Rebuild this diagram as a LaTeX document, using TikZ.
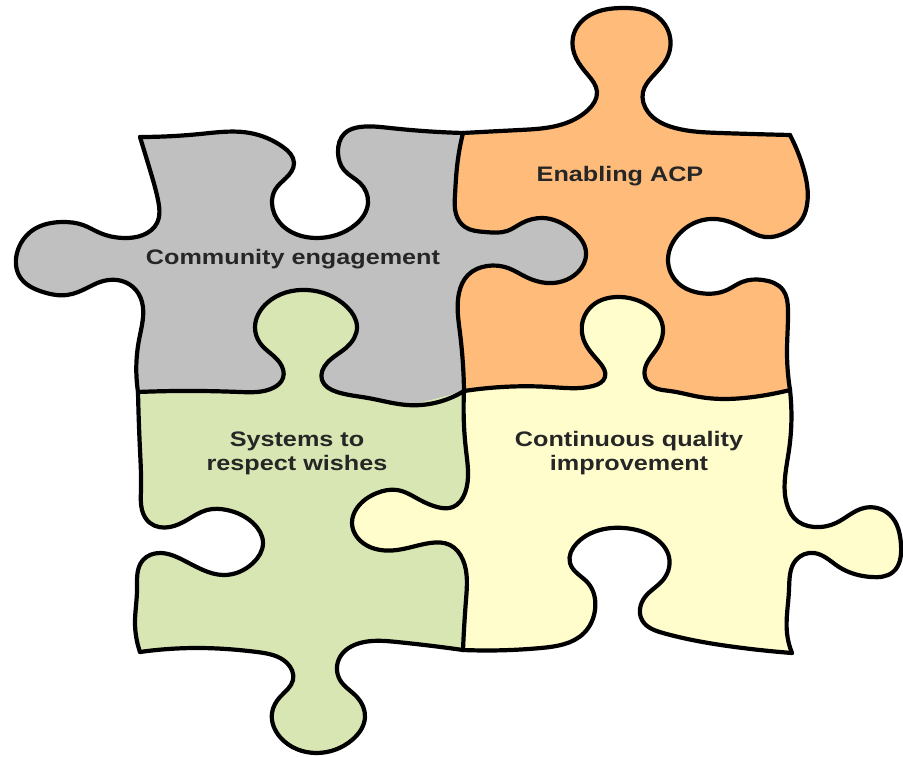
\documentclass[tikz,border=0pt]{standalone}
\usepackage{fontspec}
\setmainfont{Liberation Sans}
\usetikzlibrary{hobby}
\definecolor{pgray}{RGB}{192,192,192}
\definecolor{porange}{RGB}{255,187,122}
\definecolor{pgreen}{RGB}{215,230,178}
\definecolor{pyellow}{RGB}{255,253,204}
\definecolor{ptext}{RGB}{38,38,38}
\begin{document}
\begin{tikzpicture}[x=1pt,y=-1pt,
  edge/.style={line width=4.2pt,line join=round,line cap=round,draw=black},
  label/.style={font=\bfseries\fontsize{21}{24}\selectfont,xscale=1.2,align=center,text=ptext,inner sep=0pt}]
\fill[white] (0,0) rectangle (903,757);
\useasboundingbox (0,0) rectangle (903,757);
% ---------- gray piece
\fill[pgray] (140,137)
 -- plot[smooth] coordinates {(140,137) (200,134) (250,133) (283,147) (294,163) (286,178) (275,190) (272,203) (280,223) (317,238) (355,225) (368,203) (360,183) (344,170) (338,153) (345,133) (360,127) (390,128) (463,133)}
 -- plot[smooth] coordinates {(463,133) (457,167) (455,195) (456,214) (465,227) (485,232) (507,231) (522,223) (543,218) (572,230) (586,252) (577,273) (547,283) (526,277) (508,268) (487,266) (468,275) (459,293) (460,333) (464,391)}
 -- plot[smooth] coordinates {(464,391) (407,405) (368,398) (337,392) (322,380) (327,363) (347,347) (357,327) (347,307) (307,290) (267,303) (255,327) (260,343) (280,363) (283,378) (273,388) (240,392) (200,391) (138,392)}
 -- plot[smooth] coordinates {(138,392) (139,340) (142,302) (133,287) (117,280) (100,282) (87,288) (67,295) (43,292) (20,277) (17,253) (33,230) (63,222) (83,225) (100,233) (123,238) (143,235) (157,223) (158,200) (150,170) (140,137)}
 -- cycle;
% ---------- orange piece
\fill[porange] (463,133)
 -- plot[smooth] coordinates {(463,133) (520,130) (560,125) (588,110) (597,92) (588,75) (576,58) (573,37) (590,15) (623,8) (655,15) (670,37) (666,60) (652,77) (643,92) (648,112) (675,128) (720,133) (790,135)}
 -- plot[smooth] coordinates {(790,135) (803,167) (807,205) (800,222) (785,233) (765,237) (747,230) (723,220) (703,220) (680,233) (668,260) (678,283) (700,293) (727,290) (742,282) (763,280) (783,290) (788,310) (787,350) (790,390)}
 -- plot[smooth] coordinates {(790,390) (753,397) (700,397) (670,391) (653,387) (645,377) (647,363) (658,347) (662,323) (647,305) (617,297) (593,305) (583,320) (585,343) (600,363) (605,377) (593,386) (550,387) (502,387) (464,391)}
 -- plot[smooth] coordinates {(464,391) (460,333) (459,293) (468,275) (487,266) (508,268) (526,277) (547,283) (577,273) (586,252) (572,230) (543,218) (522,223) (507,231) (485,232) (465,227) (456,214) (455,195) (457,167) (463,133)}
 -- cycle;
% ---------- green piece
\fill[pgreen] (138,392)
 -- plot[smooth] coordinates {(138,392) (200,391) (240,392) (273,388) (283,378) (280,363) (260,343) (255,327) (267,303) (307,290) (347,307) (357,327) (347,347) (327,363) (322,380) (337,392) (368,398) (407,405) (464,391)}
 -- plot[smooth] coordinates {(464,391) (466,450) (465,493) (453,507) (437,507) (420,500) (397,490) (377,493) (357,508) (352,523) (363,543) (397,550) (430,543) (450,545) (463,560) (466,600) (463,650)}
 -- plot[smooth] coordinates {(463,650) (397,642) (360,643) (340,657) (340,680) (357,697) (365,717) (352,740) (317,753) (280,737) (272,713) (280,697) (293,680) (287,663) (257,652) (197,648) (140,652)}
 -- plot[smooth] coordinates {(140,652) (135,623) (137,590) (143,560) (160,553) (183,560) (203,570) (223,575) (253,563) (263,543) (253,523) (227,510) (207,510) (187,520) (170,527) (150,523) (142,510) (141,490) (140,450) (138,392)}
 -- cycle;
% ---------- yellow piece
\fill[pyellow] (464,391)
 -- plot[smooth] coordinates {(464,391) (502,387) (550,387) (593,386) (605,377) (600,363) (585,343) (583,320) (593,305) (617,297) (647,305) (662,323) (658,347) (647,363) (645,377) (653,387) (670,391) (700,397) (753,397) (790,390)}
 -- plot[smooth] coordinates {(790,390) (789,450) (789,510) (794,518) (814,527) (836,523) (864,508) (890,515) (901,545) (893,572) (871,577) (839,567) (814,553) (796,560) (789,590) (787,633) (792,653)}
 -- plot[smooth] coordinates {(792,653) (735,647) (663,633) (642,620) (645,597) (663,580) (669,557) (655,538) (624,528) (600,530) (577,543) (570,563) (588,583) (595,610) (584,633) (541,648) (463,650)}
 -- plot[smooth] coordinates {(463,650) (466,600) (463,560) (450,545) (430,543) (397,550) (363,543) (352,523) (357,508) (377,493) (397,490) (420,500) (437,507) (453,507) (465,493) (466,450) (464,391)}
 -- cycle;
% ---------- outlines
\draw[edge] (140,137) to[curve through={(200,134) (250,133) (283,147) (294,163) (286,178) (275,190) (272,203) (280,223) (317,238) (355,225) (368,203) (360,183) (344,170) (338,153) (345,133) (360,127) (390,128)}] (463,133);
\draw[edge] (463,133) to[curve through={(520,130) (560,125) (588,110) (597,92) (588,75) (576,58) (573,37) (590,15) (623,8) (655,15) (670,37) (666,60) (652,77) (643,92) (648,112) (675,128) (720,133)}] (790,135);
\draw[edge] (790,135) to[curve through={(803,167) (807,205) (800,222) (785,233) (765,237) (747,230) (723,220) (703,220) (680,233) (668,260) (678,283) (700,293) (727,290) (742,282) (763,280) (783,290) (788,310) (787,350)}] (790,390);
\draw[edge] (464,391) to[curve through={(502,387) (550,387) (593,386) (605,377) (600,363) (585,343) (583,320) (593,305) (617,297) (647,305) (662,323) (658,347) (647,363) (645,377) (653,387) (670,391) (700,397) (753,397)}] (790,390);
\draw[edge] (463,133) to[curve through={(457,167) (455,195) (456,214) (465,227) (485,232) (507,231) (522,223) (543,218) (572,230) (586,252) (577,273) (547,283) (526,277) (508,268) (487,266) (468,275) (459,293) (460,333)}] (464,391);
\draw[edge] (140,137) to[curve through={(150,170) (158,200) (157,223) (143,235) (123,238) (100,233) (83,225) (63,222) (33,230) (17,253) (20,277) (43,292) (67,295) (87,288) (100,282) (117,280) (133,287) (142,302) (139,340)}] (138,392);
\draw[edge] (138,392) to[curve through={(200,391) (240,392) (273,388) (283,378) (280,363) (260,343) (255,327) (267,303) (307,290) (347,307) (357,327) (347,347) (327,363) (322,380) (337,392) (368,398) (407,405)}] (464,391);
\draw[edge] (464,391) to[curve through={(466,450) (465,493) (453,507) (437,507) (420,500) (397,490) (377,493) (357,508) (352,523) (363,543) (397,550) (430,543) (450,545) (463,560) (466,600)}] (463,650);
\draw[edge] (138,392) to[curve through={(140,450) (141,490) (142,510) (150,523) (170,527) (187,520) (207,510) (227,510) (253,523) (263,543) (253,563) (223,575) (203,570) (183,560) (160,553) (143,560) (137,590) (135,623)}] (140,652);
\draw[edge] (140,652) to[curve through={(197,648) (257,652) (287,663) (293,680) (280,697) (272,713) (280,737) (317,753) (352,740) (365,717) (357,697) (340,680) (340,657) (360,643) (397,642)}] (463,650);
\draw[edge] (790,390) to[curve through={(789,450) (789,510) (794,518) (814,527) (836,523) (864,508) (890,515) (901,545) (893,572) (871,577) (839,567) (814,553) (796,560) (789,590) (787,633)}] (792,653);
\draw[edge] (463,650) to[curve through={(541,648) (584,633) (595,610) (588,583) (570,563) (577,543) (600,530) (624,528) (655,538) (669,557) (663,580) (645,597) (642,620) (663,633) (735,647)}] (792,653);
% ---------- labels
\node[label] (ce) at (293,259) {Community engagement};
\node[label] (acp) at (620,176) {Enabling ACP};
\node[label] (srw) at (297,453) {Systems to\\respect wishes};
\node[label] (cqi) at (629,453) {Continuous quality\\improvement};
\end{tikzpicture}
\end{document}
